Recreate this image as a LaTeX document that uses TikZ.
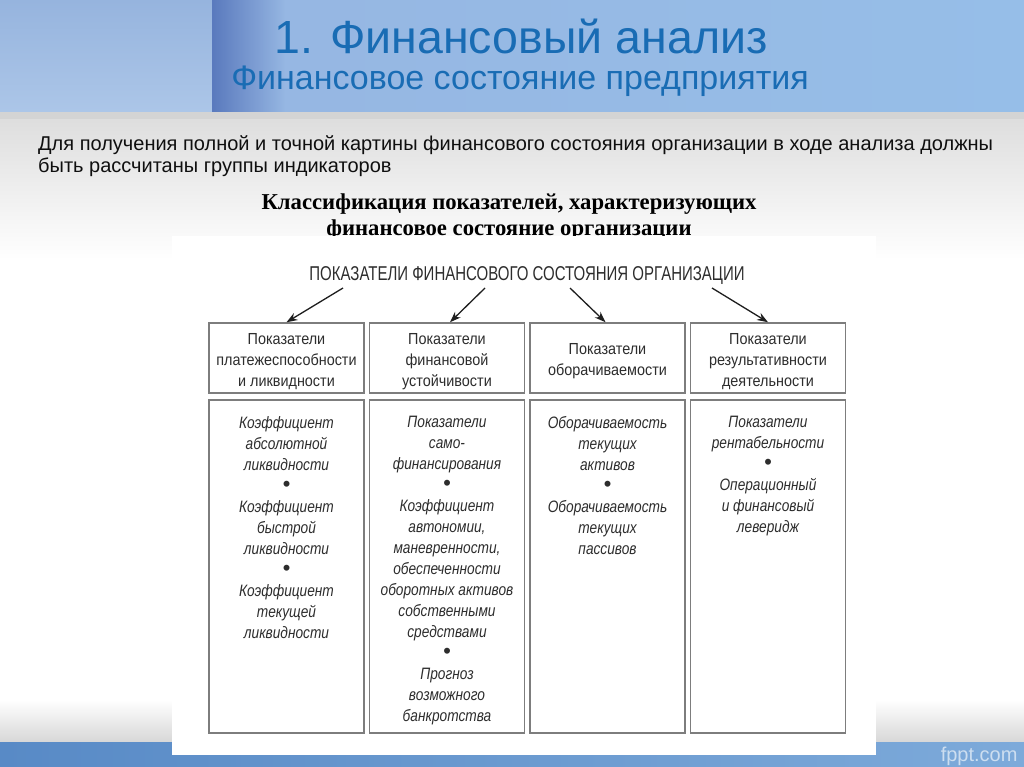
\documentclass[tikz,border=0pt]{standalone}
\usepackage{fontspec}
\setmainfont{Liberation Sans}
\newfontfamily\condf[FakeStretch=0.75]{Liberation Sans}
\newfontfamily\boxf[FakeStretch=0.9]{Liberation Sans}
\newfontfamily\itf[FakeStretch=0.83]{Liberation Sans}
\newfontfamily\serifb{Liberation Serif}
\usetikzlibrary{arrows.meta,fadings}
\definecolor{titleblue}{RGB}{25,108,180}
\definecolor{boxgray}{RGB}{125,125,125}
\definecolor{txtgray}{RGB}{45,45,45}
\definecolor{hlA}{RGB}{150,180,222}
\definecolor{hlB}{RGB}{172,198,232}
\definecolor{hrA}{RGB}{150,182,226}
\definecolor{hrM}{RGB}{205,226,245}
\definecolor{hrB}{RGB}{150,190,232}
\definecolor{hdA}{RGB}{90,122,190}
\definecolor{strip}{RGB}{212,212,212}
\definecolor{bgA}{RGB}{222,222,222}
\definecolor{bgC}{RGB}{215,215,215}
\definecolor{ftA}{RGB}{88,138,198}
\definecolor{ftB}{RGB}{125,170,218}
\definecolor{fptext}{RGB}{205,222,240}
\definecolor{arrcol}{RGB}{30,30,30}
\definecolor{partext}{RGB}{15,15,15}
\newcommand{\bul}{{\rmfamily\fontsize{22}{21}\selectfont•}}
\tikzset{
  boxline/.style={draw=boxgray, line width=1.5pt, inner sep=0pt, minimum width=155pt},
  topbox/.style={boxline, minimum height=70pt},
  toptext/.style={inner sep=0pt, align=center, text=txtgray, font=\boxf\fontsize{16}{21}\selectfont},
  lowbox/.style={boxline, minimum height=333pt},
  lowtext/.style={anchor=north, inner sep=0pt, align=center, text=txtgray,
    font=\itf\itshape\fontsize{16.5}{21}\selectfont},
  arr/.style={draw=arrcol, line width=1.3pt, -{Stealth[length=11pt,width=8pt]}}
}
\begin{document}
\begin{tikzpicture}[x=1pt,y=-1pt]
\useasboundingbox (0,0) rectangle (1024,767);
% backgrounds
\shade[top color=hlA, bottom color=hlB] (0,0) rectangle (212,112);
\shade[left color=hrA, middle color=hrM, right color=hrB] (212,0) rectangle (1024,112);
\fill[hdA, path fading=east] (212,0) rectangle (285,112);
\fill[strip] (0,112) rectangle (1024,120);
\shade[top color=bgA, bottom color=white] (0,120) rectangle (1024,260);
\fill[white] (0,260) rectangle (1024,700);
\shade[top color=white, bottom color=bgC] (0,700) rectangle (1024,742);
\shade[left color=ftA, right color=ftB] (0,742) rectangle (1024,767);
% titles
\node[text=titleblue, font=\fontsize{46.5}{52}\selectfont] (t1) at (521,36) {1. Финансовый анализ};
\node[text=titleblue, font=\fontsize{34}{38}\selectfont] (t2) at (520,81) {Финансовое состояние предприятия};
\node[anchor=north west, inner sep=0pt, align=left, text=partext, font=\fontsize{20}{22.5}\selectfont] (p1) at (38,135)
  {Для получения полной и точной картины финансового состояния организации в ходе анализа должны\\быть рассчитаны группы индикаторов};
\node[align=center, font=\serifb\bfseries\fontsize{22.7}{26}\selectfont] (ct) at (509,217)
  {Классификация показателей, характеризующих\\финансовое состояние организации};
\fill[white] (172,236) rectangle (876,755);
\node[text=txtgray, font=\condf\fontsize{20}{24}\selectfont] (hdr) at (527,276) {ПОКАЗАТЕЛИ ФИНАНСОВОГО СОСТОЯНИЯ ОРГАНИЗАЦИИ};
% top boxes
\node[topbox] (b1) at (286.5,358) {};
\node[topbox] (b2) at (447,358) {};
\node[topbox] (b3) at (607.5,358) {};
\node[topbox] (b4) at (768,358) {};
\node[toptext] (bt1) at ([yshift=-4pt]b1.center) {Показатели\\платежеспособности\\и ликвидности};
\node[toptext] (bt2) at ([yshift=-4pt]b2.center) {Показатели\\финансовой\\устойчивости};
\node[toptext] (bt3) at ([yshift=-3pt]b3.center) {Показатели\\оборачиваемости};
\node[toptext] (bt4) at ([yshift=-4pt]b4.center) {Показатели\\результативности\\деятельности};
% arrows
\coordinate (s1) at (343,288);
\coordinate (s2) at (485,288);
\coordinate (s3) at (570,288);
\coordinate (s4) at (712,288);
\draw[arr] (s1) -- (b1.north);
\draw[arr] (s2) -- ([xshift=3pt]b2.north);
\draw[arr] (s3) -- ([xshift=-2pt]b3.north);
\draw[arr] (s4) -- (b4.north);
% lower boxes
\node[lowbox] (l1) at (286.5,566.5) {};
\node[lowbox] (l2) at (447,566.5) {};
\node[lowbox] (l3) at (607.5,566.5) {};
\node[lowbox] (l4) at (768,566.5) {};
\node[lowtext] (x1) at ([yshift=-17pt]l1.north) {Коэффициент\\абсолютной\\ликвидности\\\bul\\Коэффициент\\быстрой\\ликвидности\\\bul\\Коэффициент\\текущей\\ликвидности};
\node[lowtext] (x2) at ([yshift=-17pt]l2.north) {Показатели\\само-\\финансирования\\\bul\\Коэффициент\\автономии,\\маневренности,\\обеспеченности\\оборотных активов\\собственными\\средствами\\\bul\\Прогноз\\возможного\\банкротства};
\node[lowtext] (x3) at ([yshift=-17pt]l3.north) {Оборачиваемость\\текущих\\активов\\\bul\\Оборачиваемость\\текущих\\пассивов};
\node[lowtext] (x4) at ([yshift=-17pt]l4.north) {Показатели\\рентабельности\\\bul\\Операционный\\и финансовый\\леверидж};
% footer
\node[anchor=base east, text=fptext, font=\fontsize{20}{24}\selectfont] (fp) at (1021,761) {fppt.com};
\end{tikzpicture}
\end{document}
